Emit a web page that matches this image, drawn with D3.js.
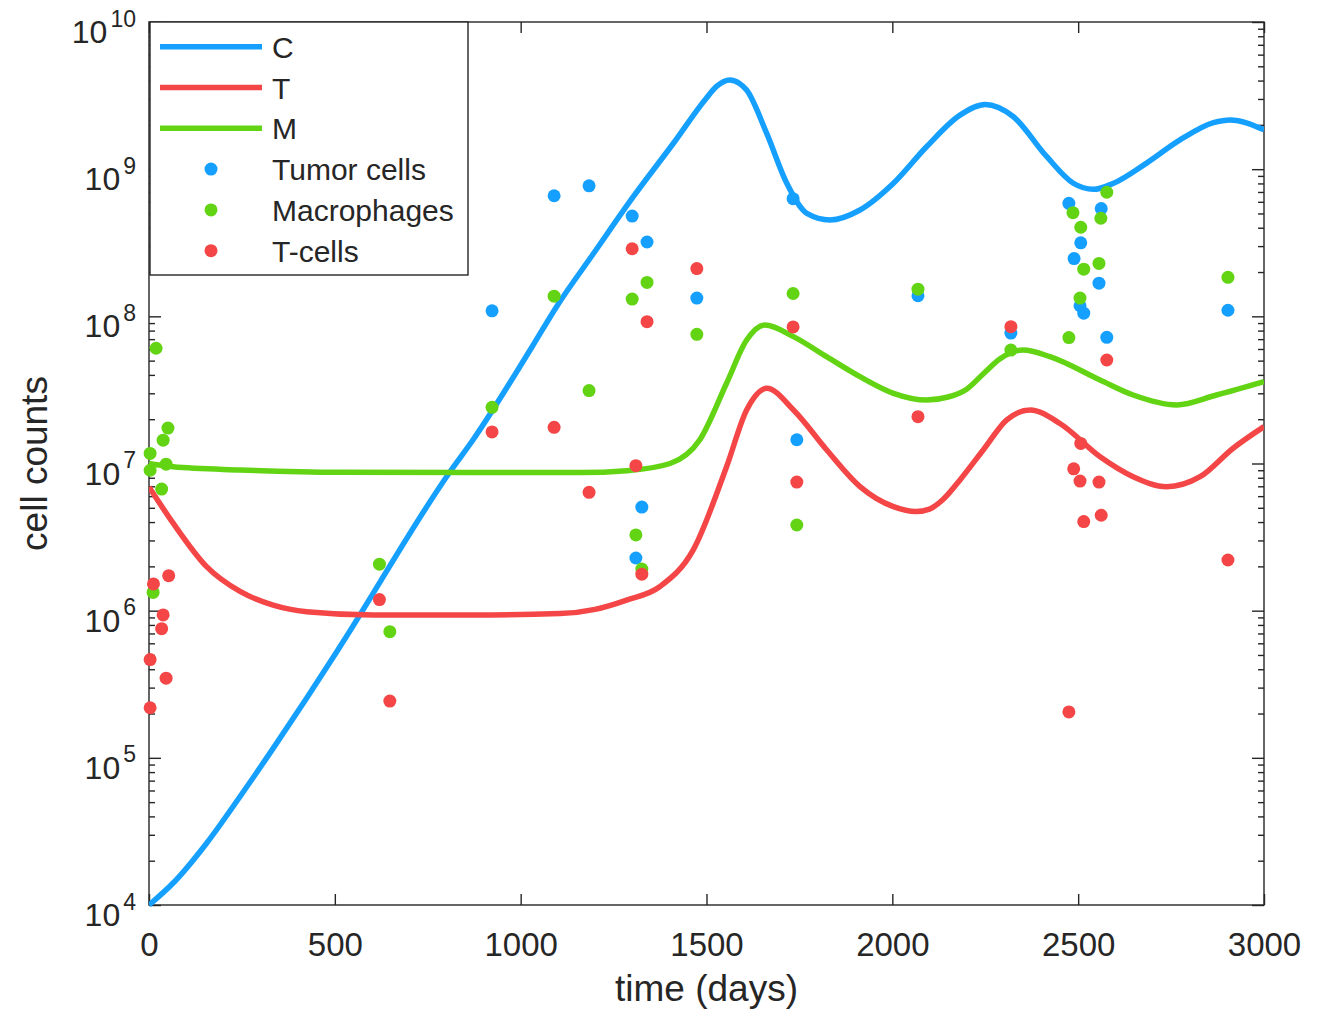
<!DOCTYPE html>
<html>
<head>
<meta charset="utf-8">
<script src="https://cdn.jsdelivr.net/npm/d3@7"></script>
<style>
  body { margin: 0; background: #fff; }
  text { font-family: "Liberation Sans", Arial, sans-serif; fill: #262626; }
</style>
</head>
<body>
<div class="chart"></div>
<script>
// model curves (days, cell counts)
const cDays = [0, 65, 155, 245, 334, 424, 514, 810, 872, 1030, 1100, 1195, 1303, 1411, 1500, 1527, 1563, 1588, 1608, 1662, 1716, 1770, 1832, 1913, 2003, 2092, 2182, 2250, 2325, 2415, 2487, 2541, 2595, 2684, 2774, 2864, 2909, 3000];
const cVals = [1.0e4, 1.41e4, 2.63e4, 5.46e4, 1.16e5, 2.54e5, 5.7e5, 8.79e6, 1.45e7, 6.17e7, 1.2e8, 2.65e8, 6.5e8, 1.5e9, 3.05e9, 3.65e9, 4.04e9, 3.84e9, 3.45e9, 1.75e9, 8.02e8, 5.01e8, 4.52e8, 5.28e8, 8.02e8, 1.42e9, 2.33e9, 2.75e9, 2.28e9, 1.22e9, 8.02e8, 7.29e8, 8.02e8, 1.1e9, 1.58e9, 2.07e9, 2.16e9, 1.85e9];

const tDays = [0, 65, 155, 245, 334, 424, 603, 872, 1106, 1200, 1285, 1375, 1464, 1554, 1608, 1662, 1734, 1823, 1913, 2003, 2063, 2100, 2137, 2182, 2245, 2308, 2371, 2451, 2559, 2648, 2738, 2828, 2917, 3000];
const tVals = [6.92e6, 3.93e6, 1.99e6, 1.35e6, 1.09e6, 9.84e5, 9.35e5, 9.35e5, 9.55e5, 1.02e6, 1.18e6, 1.46e6, 2.58e6, 9.51e6, 2.31e7, 3.24e7, 2.31e7, 1.24e7, 6.97e6, 5.09e6, 4.71e6, 4.9e6, 5.71e6, 7.73e6, 1.24e7, 1.98e7, 2.31e7, 1.87e7, 1.11e7, 8.13e6, 6.95e6, 8.13e6, 1.27e7, 1.78e7];

const mDays = [0, 65, 245, 514, 872, 1160, 1285, 1402, 1482, 1554, 1608, 1657, 1734, 1823, 1913, 2003, 2092, 2150, 2200, 2250, 2289, 2352, 2424, 2559, 2648, 2765, 2872, 3000];
const mVals = [1.0e7, 9.5e6, 9.04e6, 8.71e6, 8.67e6, 8.67e6, 8.93e6, 1.0e7, 1.45e7, 3.51e7, 6.9e7, 8.73e7, 7.28e7, 5.32e7, 3.89e7, 3.0e7, 2.7e7, 2.83e7, 3.2e7, 4.19e7, 5.13e7, 5.9e7, 5.32e7, 3.69e7, 2.92e7, 2.5e7, 2.92e7, 3.6e7];

// measured data
const tumorDays = [923, 1090, 1184, 1300, 1340, 1474, 1733, 1326, 1310, 1743, 2069, 2319, 2475, 2562, 2507, 2489, 2556, 2505, 2515, 2577, 2903];
const tumorVals = [1.09e8, 6.6e8, 7.7e8, 4.8e8, 3.2e8, 1.33e8, 6.3e8, 5.06e6, 2.28e6, 1.45e7, 1.38e8, 7.7e7, 5.86e8, 5.4e8, 3.16e8, 2.47e8, 1.68e8, 1.18e8, 1.05e8, 7.2e7, 1.1e8];

const macroDays = [19, 51, 38, 3, 46, 3, 34, 11, 620, 648, 923, 1090, 1184, 1300, 1340, 1474, 1310, 1326, 1733, 1743, 2069, 2319, 2475, 2486, 2507, 2515, 2505, 2556, 2561, 2577, 2903];
const macroVals = [6.07e7, 1.74e7, 1.44e7, 1.17e7, 9.9e6, 9.0e6, 6.7e6, 1.33e6, 2.07e6, 7.2e5, 2.41e7, 1.37e8, 3.13e7, 1.31e8, 1.7e8, 7.55e7, 3.27e6, 1.92e6, 1.43e8, 3.82e6, 1.53e8, 5.9e7, 7.17e7, 5.06e8, 4.03e8, 2.09e8, 1.33e8, 2.29e8, 4.64e8, 6.97e8, 1.84e8];

const tcellDays = [53, 12, 38, 34, 3, 46, 3, 620, 648, 923, 1090, 1184, 1300, 1340, 1474, 1310, 1326, 1733, 1743, 2069, 2319, 2475, 2507, 2488, 2505, 2556, 2562, 2515, 2577, 2903];
const tcellVals = [1.73e6, 1.52e6, 9.35e5, 7.55e5, 4.65e5, 3.48e5, 2.19e5, 1.19e6, 2.43e5, 1.64e7, 1.76e7, 6.37e6, 2.88e8, 9.2e7, 2.11e8, 9.66e6, 1.77e6, 8.47e7, 7.48e6, 2.08e7, 8.5e7, 2.05e5, 1.37e7, 9.2e6, 7.6e6, 7.48e6, 4.45e6, 4.03e6, 5.05e7, 2.21e6];

const xTicks = [0, 500, 1000, 1500, 2000, 2500, 3000];
const yExps = [4, 5, 6, 7, 8, 9, 10];

const blue = '#15a0ff', red = '#f44646', green = '#63d413';

const width = 1331, height = 1016;
const mLeft = 149, mRight = 1264, mTop = 22, mBottom = 905;

const svg = d3.select('.chart').append('svg')
    .attr('width', width)
    .attr('height', height);

const x = d3.scaleLinear().domain([0, 3000]).range([mLeft, mRight]);
const y = d3.scaleLog().domain([1e4, 1e10]).range([mBottom, mTop]);

const yMajor = yExps.map(e => Math.pow(10, e));
const yMinor = [];
yExps.slice(0, -1).forEach(e => {
    for (let k = 2; k <= 9; k++) yMinor.push(k * Math.pow(10, e));
});

// axes (ticks point inward, box on all sides)
const axisStyle = g => {
    g.select('.domain').remove();
    g.selectAll('.tick line').attr('stroke', '#262626').attr('stroke-width', 1.4);
};

svg.append('g')
    .attr('transform', `translate(0,${mBottom})`)
    .call(d3.axisBottom(x).tickValues(xTicks).tickFormat(d3.format('d'))
        .tickSizeInner(-11).tickSizeOuter(0).tickPadding(28))
    .call(axisStyle)
    .selectAll('text')
    .attr('font-size', 33)
    .attr('fill', '#262626');

svg.append('g')
    .attr('transform', `translate(0,${mTop})`)
    .call(d3.axisTop(x).tickValues(xTicks).tickSizeInner(-11).tickSizeOuter(0).tickFormat(''))
    .call(axisStyle);

[[d3.axisLeft, mLeft], [d3.axisRight, mRight]].forEach(([ax, pos]) => {
    svg.append('g')
        .attr('transform', `translate(${pos},0)`)
        .call(ax(y).tickValues(yMajor).tickSizeInner(-12).tickSizeOuter(0).tickFormat(''))
        .call(axisStyle);
    svg.append('g')
        .attr('transform', `translate(${pos},0)`)
        .call(ax(y).tickValues(yMinor).tickSizeInner(-6).tickSizeOuter(0).tickFormat(''))
        .call(axisStyle);
});

// y tick labels 10^n
const ylab = svg.append('g').selectAll('text')
    .data(yExps)
    .enter().append('text')
    .attr('x', 136)
    .attr('y', d => y(Math.pow(10, d)) + 21)
    .attr('text-anchor', 'end');
ylab.append('tspan').attr('font-size', 32).text('10');
ylab.append('tspan').attr('font-size', 23).attr('dx', 3).attr('dy', -16.5).text(d => d);

svg.append('rect')
    .attr('x', mLeft).attr('y', mTop)
    .attr('width', mRight - mLeft).attr('height', mBottom - mTop)
    .attr('fill', 'none')
    .attr('stroke', '#262626')
    .attr('stroke-width', 1.4);

// axis titles
svg.append('text')
    .attr('x', (mLeft + mRight) / 2)
    .attr('y', 1001)
    .attr('text-anchor', 'middle')
    .attr('font-size', 37)
    .text('time (days)');

svg.append('text')
    .attr('transform', `translate(47,${(mTop + mBottom) / 2}) rotate(-90)`)
    .attr('text-anchor', 'middle')
    .attr('font-size', 37)
    .text('cell counts');

// curves
svg.append('clipPath').attr('id', 'plotclip')
    .append('rect').attr('x', mLeft).attr('y', mTop - 5)
    .attr('width', mRight - mLeft).attr('height', mBottom - mTop + 10);

const line = d3.line()
    .x(d => x(d[0]))
    .y(d => y(d[1]))
    .curve(d3.curveMonotoneX);

const curves = [
    {days: cDays, vals: cVals, color: blue},
    {days: tDays, vals: tVals, color: red},
    {days: mDays, vals: mVals, color: green}
];

svg.append('g').attr('clip-path', 'url(#plotclip)')
    .selectAll('path')
    .data(curves)
    .enter().append('path')
    .attr('d', d => line(d.days.map((t, i) => [t, d.vals[i]])))
    .attr('fill', 'none')
    .attr('stroke', d => d.color)
    .attr('stroke-width', 5.5);

// data points
const points = [
    {days: tumorDays, vals: tumorVals, color: blue},
    {days: macroDays, vals: macroVals, color: green},
    {days: tcellDays, vals: tcellVals, color: red}
];

points.forEach(s => {
    svg.append('g').selectAll('circle')
        .data(s.days.map((t, i) => [t, s.vals[i]]))
        .enter().append('circle')
        .attr('cx', d => x(d[0]))
        .attr('cy', d => y(d[1]))
        .attr('r', 6.5)
        .attr('fill', s.color);
});

// legend
const legendItems = [
    {label: 'C', color: blue, type: 'line'},
    {label: 'T', color: red, type: 'line'},
    {label: 'M', color: green, type: 'line'},
    {label: 'Tumor cells', color: blue, type: 'dot'},
    {label: 'Macrophages', color: green, type: 'dot'},
    {label: 'T-cells', color: red, type: 'dot'}
];

const legend = svg.append('g');
legend.append('rect')
    .attr('x', 150).attr('y', 22)
    .attr('width', 318).attr('height', 253)
    .attr('fill', '#fff')
    .attr('stroke', '#262626')
    .attr('stroke-width', 1.4);

const rows = legend.selectAll('g.row')
    .data(legendItems)
    .enter().append('g')
    .attr('transform', (d, i) => `translate(0,${46.7 + i * 40.8})`);

rows.filter(d => d.type === 'line').append('line')
    .attr('x1', 160).attr('x2', 262)
    .attr('y1', 0).attr('y2', 0)
    .attr('stroke', d => d.color)
    .attr('stroke-width', 5.5);

rows.filter(d => d.type === 'dot').append('circle')
    .attr('cx', 211).attr('cy', 0)
    .attr('r', 6.5)
    .attr('fill', d => d.color);

rows.append('text')
    .attr('x', 272)
    .attr('y', 11)
    .attr('font-size', 30)
    .attr('fill', '#000')
    .text(d => d.label);
</script>
</body>
</html>
